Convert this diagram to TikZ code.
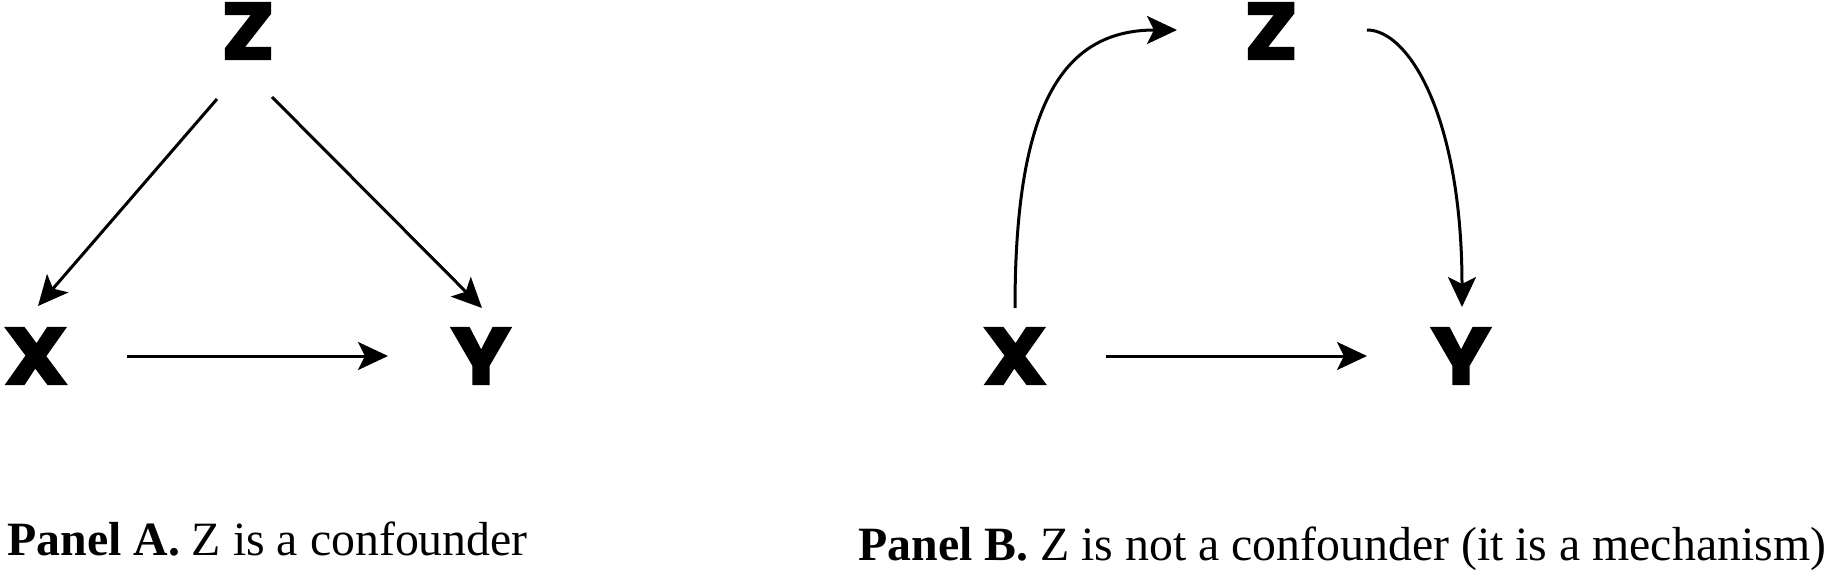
\documentclass[tikz,border=0pt]{standalone}
\usepackage{fontspec}
\setmainfont{Liberation Serif}
\newfontfamily\dagfont{Poppins}[BoldFeatures={FakeBold=2.5, FakeStretch=1.12}]
\usepackage{tikz}
\usetikzlibrary{arrows.meta,positioning}
\tikzset{
  var/.style={inner sep=0pt, font=\dagfont\bfseries\fontsize{40}{40}\selectfont},
  captext/.style={anchor=base west, inner sep=0pt, font=\fontsize{23.9}{27}\selectfont},
  dagarr/.style={-{Stealth[length=15pt, width=14pt, inset=3.5pt]}, line width=1.5pt}
}
\begin{document}
\begin{tikzpicture}[x=0.5pt, y=-0.5pt]
\useasboundingbox (0,0) rectangle (1833,583);
\node[var] (zA) at (248,31) {Z};
\node[var] (xA) at (36,356) {X};
\node[var] (yA) at (481,356) {Y};
\draw[dagarr] ([shift={(-31,68)}]zA.center) -- ([shift={(2,-50)}]xA.center);
\draw[dagarr] ([shift={(24,66)}]zA.center) -- ([shift={(1,-48)}]yA.center);
\draw[dagarr] ([shift={(91,0)}]xA.center) -- ([shift={(-93,0)}]yA.center);
\node[captext] (capA) at (7,555) {\textbf{Panel A.} Z is a confounder};

\node[var] (zB) at (1271,31) {Z};
\node[var] (xB) at (1015,356) {X};
\node[var] (yB) at (1461,356) {Y};
\draw[dagarr] ([shift={(0,-48)}]xB.center) .. controls +(0,-198) and +(-117,0) .. ([shift={(-94,-1)}]zB.center);
\draw[dagarr] ([shift={(96,-1)}]zB.center) .. controls +(43,0) and +(0,-187) .. ([shift={(1,-49)}]yB.center);
\draw[dagarr] ([shift={(91,0)}]xB.center) -- ([shift={(-94,0)}]yB.center);
\node[captext] (capB) at (858,560) {\textbf{Panel B.} Z is not a confounder (it is a mechanism)};
\end{tikzpicture}
\end{document}
